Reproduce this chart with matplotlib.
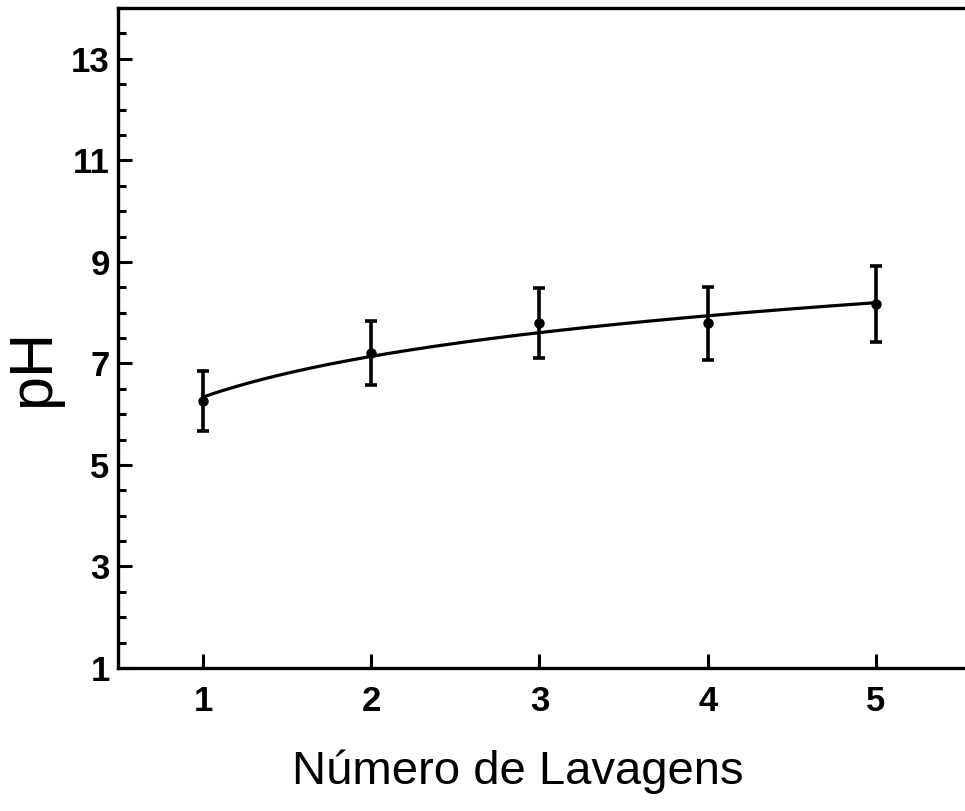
import numpy as np
import matplotlib
matplotlib.use('Agg')
import matplotlib.pyplot as plt
from matplotlib.ticker import MultipleLocator

# Mean pH and error after each washing
lavagens = [1, 2, 3, 4, 5]
ph_mean = [6.26, 7.21, 7.79, 7.79, 8.17]
ph_err = [0.59, 0.63, 0.69, 0.72, 0.75]

yticks = [1, 3, 5, 7, 9, 11, 13]

plt.rcParams['font.family'] = ['Liberation Sans', 'DejaVu Sans']

fig = plt.figure(figsize=(9.65, 8.11), dpi=100)
ax = fig.add_axes([0.1223, 0.1763, 0.8777, 0.8137])

# logarithmic fit through the means
b, a = np.polyfit(np.log(lavagens), ph_mean, 1)
xf = np.linspace(1, 5, 200)
ax.plot(xf, a + b * np.log(xf), color='black', lw=2.3)

ax.errorbar(lavagens, ph_mean, yerr=ph_err, fmt='o', color='black',
            ms=6.5, elinewidth=2.6, capsize=4, capthick=2.6)

ax.set_xlim(0.495, 5.53)
ax.set_ylim(1, 14)
ax.set_xticks(lavagens)
ax.set_yticks(yticks)
ax.yaxis.set_minor_locator(MultipleLocator(0.5))
ax.tick_params(axis='both', which='major', direction='in', length=10,
               width=2.2, labelsize=25)
ax.tick_params(axis='x', which='major', pad=12)
ax.tick_params(axis='y', which='major', pad=6)
ax.tick_params(axis='y', which='minor', direction='in', length=6, width=2.2)
for lab in ax.get_xticklabels() + ax.get_yticklabels():
    lab.set_fontweight('bold')

for s in ['left', 'bottom', 'top']:
    ax.spines[s].set_linewidth(2.4)
ax.spines['right'].set_visible(False)

ax.set_xlabel('Número de Lavagens', fontsize=34)
ax.xaxis.set_label_coords(0.4725, -0.123, transform=ax.transAxes)
ax.xaxis.label.set_va('top')
ax.set_ylabel('pH', fontsize=44)
ax.yaxis.set_label_coords(-0.066, 0.455, transform=ax.transAxes)

fig.savefig('out.png', dpi=100)
